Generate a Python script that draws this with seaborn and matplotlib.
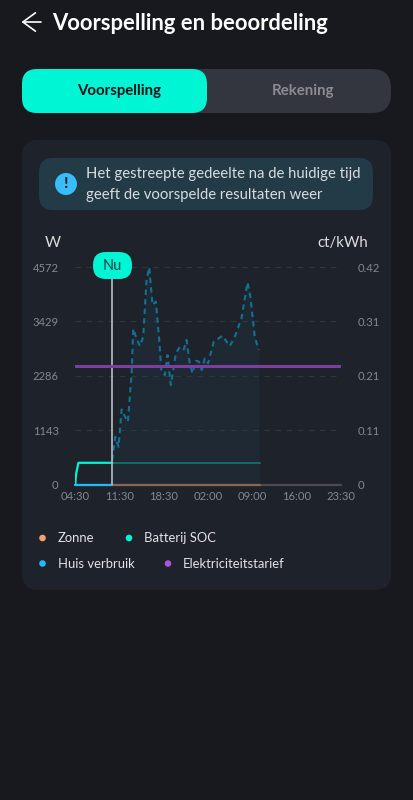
import matplotlib

matplotlib.use("Agg")

import matplotlib.pyplot as plt
import seaborn as sns
from matplotlib.patches import Circle, FancyBboxPatch

# hours since 04:30
tick_labels = ["04:30", "11:30", "18:30", "02:00", "09:00", "16:00", "23:30"]
tick_hours = [0, 7.17, 14.33, 21.5, 28.67, 35.83, 43]
watt_ticks = [0, 1143, 2286, 3429, 4572]
tariff_ticks = [0, 0.105, 0.21, 0.315, 0.42]
tariff_labels = ["0", "0.11", "0.21", "0.31", "0.42"]

now_hour = 5.98
end_hour = 29.84

forecast_hours = [5.98, 6.47, 7.0, 7.49, 7.92, 8.51, 9.11, 9.38, 9.81, 10.45, 10.99, 11.53, 11.96,
                  12.5, 13.04, 13.58, 13.95, 14.49, 14.92, 15.46, 16.27, 16.92, 17.56, 18.0, 18.53,
                  18.97, 19.5, 20.04, 20.47, 20.96, 21.49, 22.41, 23.81, 25.0, 25.81, 26.89, 27.86,
                  28.34, 29.04, 29.69]
forecast_watts = [512, 1003, 792, 1578, 1458, 1318, 2335, 3275, 3106, 2910, 3106, 4298, 4565,
                  3772, 3843, 3036, 2370, 2300, 2721, 2090, 2756, 2896, 2840, 3036, 2545,
                  2335, 2601, 2580, 2405, 2651, 2545, 3001, 3127, 2910, 3106, 3492, 4249,
                  3948, 3106, 2826]

soc_hours = [0, 0.1, 0.5, 5.98]
soc_watts = [0, 200, 456, 456]
soc_future_hours = [5.98, 29.84]
soc_future_watts = [456, 456]
tariff_hours = [0, 43]
tariff_values = [0.2293, 0.2293]

legend_names = ["Zonne", "Batterij SOC", "Huis verbruik", "Elektriciteitstarief"]
legend_colors = ["#f6a06c", "#00f5d4", "#22b8ff", "#a855d8"]

BG = "#17191e"
CARD = "#1e222b"
MINT = "#00f5d4"
FONT = ["Lato", "DejaVu Sans"]


def px(size: float) -> float:
    return size * 0.72


def round_box(ax, x0, y0, x1, y1, r, color):
    ax.add_patch(FancyBboxPatch((x0, y0), x1 - x0, y1 - y0, boxstyle=f"round,pad=0,rounding_size={r}",
                                facecolor=color, edgecolor="none"))


sns.set_theme(style="dark")
plt.rcParams["font.family"] = FONT

fig = plt.figure(figsize=(4.13, 8), dpi=100, facecolor=BG)

# app chrome, in pixel coordinates
ui = fig.add_axes([0, 0, 1, 1], zorder=0)
ui.set_xlim(0, 413)
ui.set_ylim(800, 0)
ui.axis("off")

ui.annotate("", xy=(21.5, 22), xytext=(41, 22),
            arrowprops=dict(arrowstyle="->,head_length=0.75,head_width=0.55", color="white", lw=1.2,
                            shrinkA=0, shrinkB=0))
ui.text(52, 23, "Voorspelling en beoordeling", color="white", fontsize=px(22), fontweight="bold",
        va="center", ha="left")

round_box(ui, 22, 69, 391, 113, 19, "#33363e")
round_box(ui, 22, 69, 207, 113, 15, MINT)
ui.text(119, 91, "Voorspelling", color="#10141a", fontsize=px(15), fontweight="bold", ha="center", va="center")
ui.text(303, 91, "Rekening", color="#8b8c90", fontsize=px(15), fontweight="bold", ha="center", va="center")

round_box(ui, 22, 140, 391, 590, 16, CARD)
round_box(ui, 39, 158, 373, 210, 14, "#233a47")
ui.add_patch(Circle((66, 184), 11, facecolor="#38bdf8", edgecolor="none"))
ui.text(66, 184, "!", color="#14202a", fontsize=px(16), fontweight="bold", ha="center", va="center")
ui.text(86, 174, "Het gestreepte gedeelte na de huidige tijd", color="#d8dcdf", fontsize=px(14.95), va="center")
ui.text(86, 195, "geeft de voorspelde resultaten weer", color="#d8dcdf", fontsize=px(14.95), va="center")

ui.text(45, 243, "W", color="#dddddd", fontsize=px(15.5), va="center")
ui.text(368, 243, "ct/kWh", color="#dddddd", fontsize=px(15), va="center", ha="right")

legend_pos = [(42.5, 538), (129, 538), (42.5, 563.5), (168, 563.5)]
for name, color, (lx, ly) in zip(legend_names, legend_colors, legend_pos):
    ui.add_patch(Circle((lx, ly), 3.3, facecolor=color, edgecolor="none"))
    ui.text(lx + 15, ly, name, color="#e2e3e5", fontsize=px(13), va="center", ha="left")

# chart
ax = fig.add_axes([75.3 / 413, 1 - 484.5 / 800, (341 - 75.3) / 413, (484.5 - 267) / 800], zorder=1)
ax.patch.set_alpha(0)
ax.set_xlim(0, 43)
ax.set_ylim(0, 4572)

ax.fill_between(forecast_hours, forecast_watts, color="#1e2933", lw=0, zorder=1)
ax.fill_between(soc_future_hours, soc_future_watts, color="#1e2933", lw=0, zorder=1)

for tick in watt_ticks[1:]:
    ax.axhline(tick, color="#31353d", lw=0.8, ls=(0, (5, 5)), zorder=1, clip_on=False)

ax.plot(tick_hours[:1] + tick_hours[-1:], [0, 0], color="#4a4c52", lw=1.6, zorder=2, clip_on=False)
ax.plot([now_hour, end_hour], [0, 0], color="#8a6550", lw=1.6, zorder=2, clip_on=False)
ax.plot([0, now_hour], [0, 0], color="#22b8ff", lw=1.6, zorder=3, clip_on=False)

sns.lineplot(x=soc_future_hours, y=soc_future_watts, color="#146b66", lw=1.5, ax=ax, errorbar=None, zorder=3)
sns.lineplot(x=soc_hours, y=soc_watts, color=MINT, lw=1.6, ax=ax, errorbar=None, sort=False,
             estimator=None, zorder=4)
sns.lineplot(x=forecast_hours, y=forecast_watts, color="#15708f", lw=1.5, linestyle=(0, (2.6, 2.0)), ax=ax,
             errorbar=None, sort=False, estimator=None, zorder=4, clip_on=False)

ax.plot([now_hour, now_hour], [0, 4572], color="#b9bcbf", lw=1.2, zorder=5)

ax.set_xticks(tick_hours)
ax.set_xticklabels(tick_labels)
ax.set_yticks(watt_ticks)
ax.set_yticklabels([str(t) for t in watt_ticks])
ax.set_xlabel("")
ax.set_ylabel("")
ax.grid(False)
ax.tick_params(axis="x", length=0, pad=5, labelsize=px(11.2), labelcolor="#85888d")
ax.tick_params(axis="y", length=0, pad=12, labelsize=px(11.2), labelcolor="#85888d")
sns.despine(ax=ax, left=True, bottom=True)

right = ax.twinx()
right.patch.set_alpha(0)
right.set_ylim(0, 0.42)
sns.lineplot(x=tariff_hours, y=tariff_values, color="#7b3fa0", lw=2.2, ax=right, errorbar=None)
right.set_yticks(tariff_ticks)
right.set_yticklabels(tariff_labels)
right.set_ylabel("")
right.grid(False)
right.tick_params(axis="y", length=0, pad=12, labelsize=px(11.2), labelcolor="#85888d")
sns.despine(ax=right, left=True, bottom=True, right=True)

# "Nu" badge above the chart
top = fig.add_axes([0, 0, 1, 1], zorder=3)
top.set_xlim(0, 413)
top.set_ylim(800, 0)
top.axis("off")
round_box(top, 93, 252, 132, 279, 13, MINT)
top.text(112.5, 266, "Nu", color="#0d4542", fontsize=px(14.5), ha="center", va="center")

fig.savefig("out.png", dpi=100, facecolor=BG)
